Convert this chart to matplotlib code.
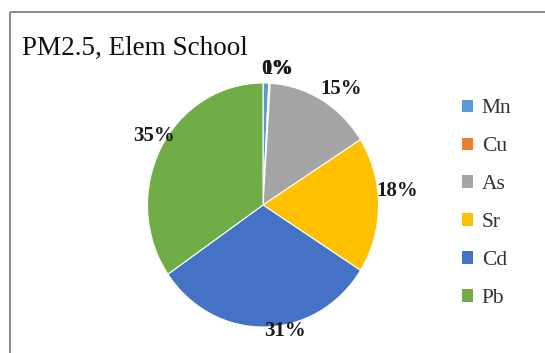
import matplotlib
matplotlib.use("Agg")
import matplotlib.pyplot as plt
from matplotlib.patches import Patch
from matplotlib.lines import Line2D
import numpy as np

# Share of each element in PM2.5 at the elementary school (%)
elements = ["Mn", "Cu", "As", "Sr", "Cd", "Pb"]
shares = [0.8, 0.2, 15.0, 18.0, 31.4, 34.6]
colors = ["#5B9BD5", "#ED7D31", "#A5A5A5", "#FFC000", "#4472C4", "#70AD47"]
title = "PM2.5, Elem School"

# label placement: (radius, angular nudge in degrees) per slice
label_place = [(1.12, -5.0), (1.12, -2.8), (1.166, -4.8), (1.166, 5.7), (1.05, 9.3), (1.10, -3.3)]

W, H = 545, 353
fig = plt.figure(figsize=(W / 100, H / 100), dpi=100)
fig.patch.set_facecolor("white")

def px(x, y):
    return x / W, 1 - y / H

# chart frame (top and left edges)
frame_kw = dict(color="#8a8a8a", lw=1.4, solid_capstyle="butt")
fig.add_artist(Line2D([10 / W, 1], [1 - 12 / H] * 2, transform=fig.transFigure, **frame_kw))
fig.add_artist(Line2D([10 / W] * 2, [0, 1 - 12 / H], transform=fig.transFigure, **frame_kw))

# pie axes
cx, cy, rx, ry = 263, 205, 115.5, 122
ax = fig.add_axes([(cx - rx) / W, (H - cy - ry) / H, 2 * rx / W, 2 * ry / H])
wedges, _, autotexts = ax.pie(
    shares, colors=colors, startangle=90, counterclock=False,
    autopct="%.0f%%", pctdistance=1.15,
    wedgeprops=dict(edgecolor="white", linewidth=0.8),
    textprops=dict(family="Liberation Serif", fontweight="bold", fontsize=15, color="#1a1a1a"),
)
ax.set_aspect("auto")
ax.set_xlim(-1, 1)
ax.set_ylim(-1, 1)
ax.axis("off")

for i, (w, t, (r, dth)) in enumerate(zip(wedges, autotexts, label_place)):
    mid = np.deg2rad((w.theta1 + w.theta2) / 2 + dth)
    t.set_position((r * np.cos(mid), r * np.sin(mid)))
    t.set_ha("center")
    t.set_va("center")
    t.set_zorder(10 - i)

# title
fig.text(*px(22, 55), title, family="Liberation Serif", fontsize=19.5, color="#111111",
         ha="left", va="baseline")

# legend
handles = [Patch(facecolor=c, edgecolor="none") for c in colors]
fig.legend(handles, elements, loc="upper left", bbox_to_anchor=px(443, 80),
           frameon=False, prop=dict(family="Liberation Serif", size=15.5),
           handlelength=0.5, handleheight=0.5, handletextpad=0.4,
           labelspacing=0.88, labelcolor="#333333")

fig.savefig("out.png", dpi=100)
